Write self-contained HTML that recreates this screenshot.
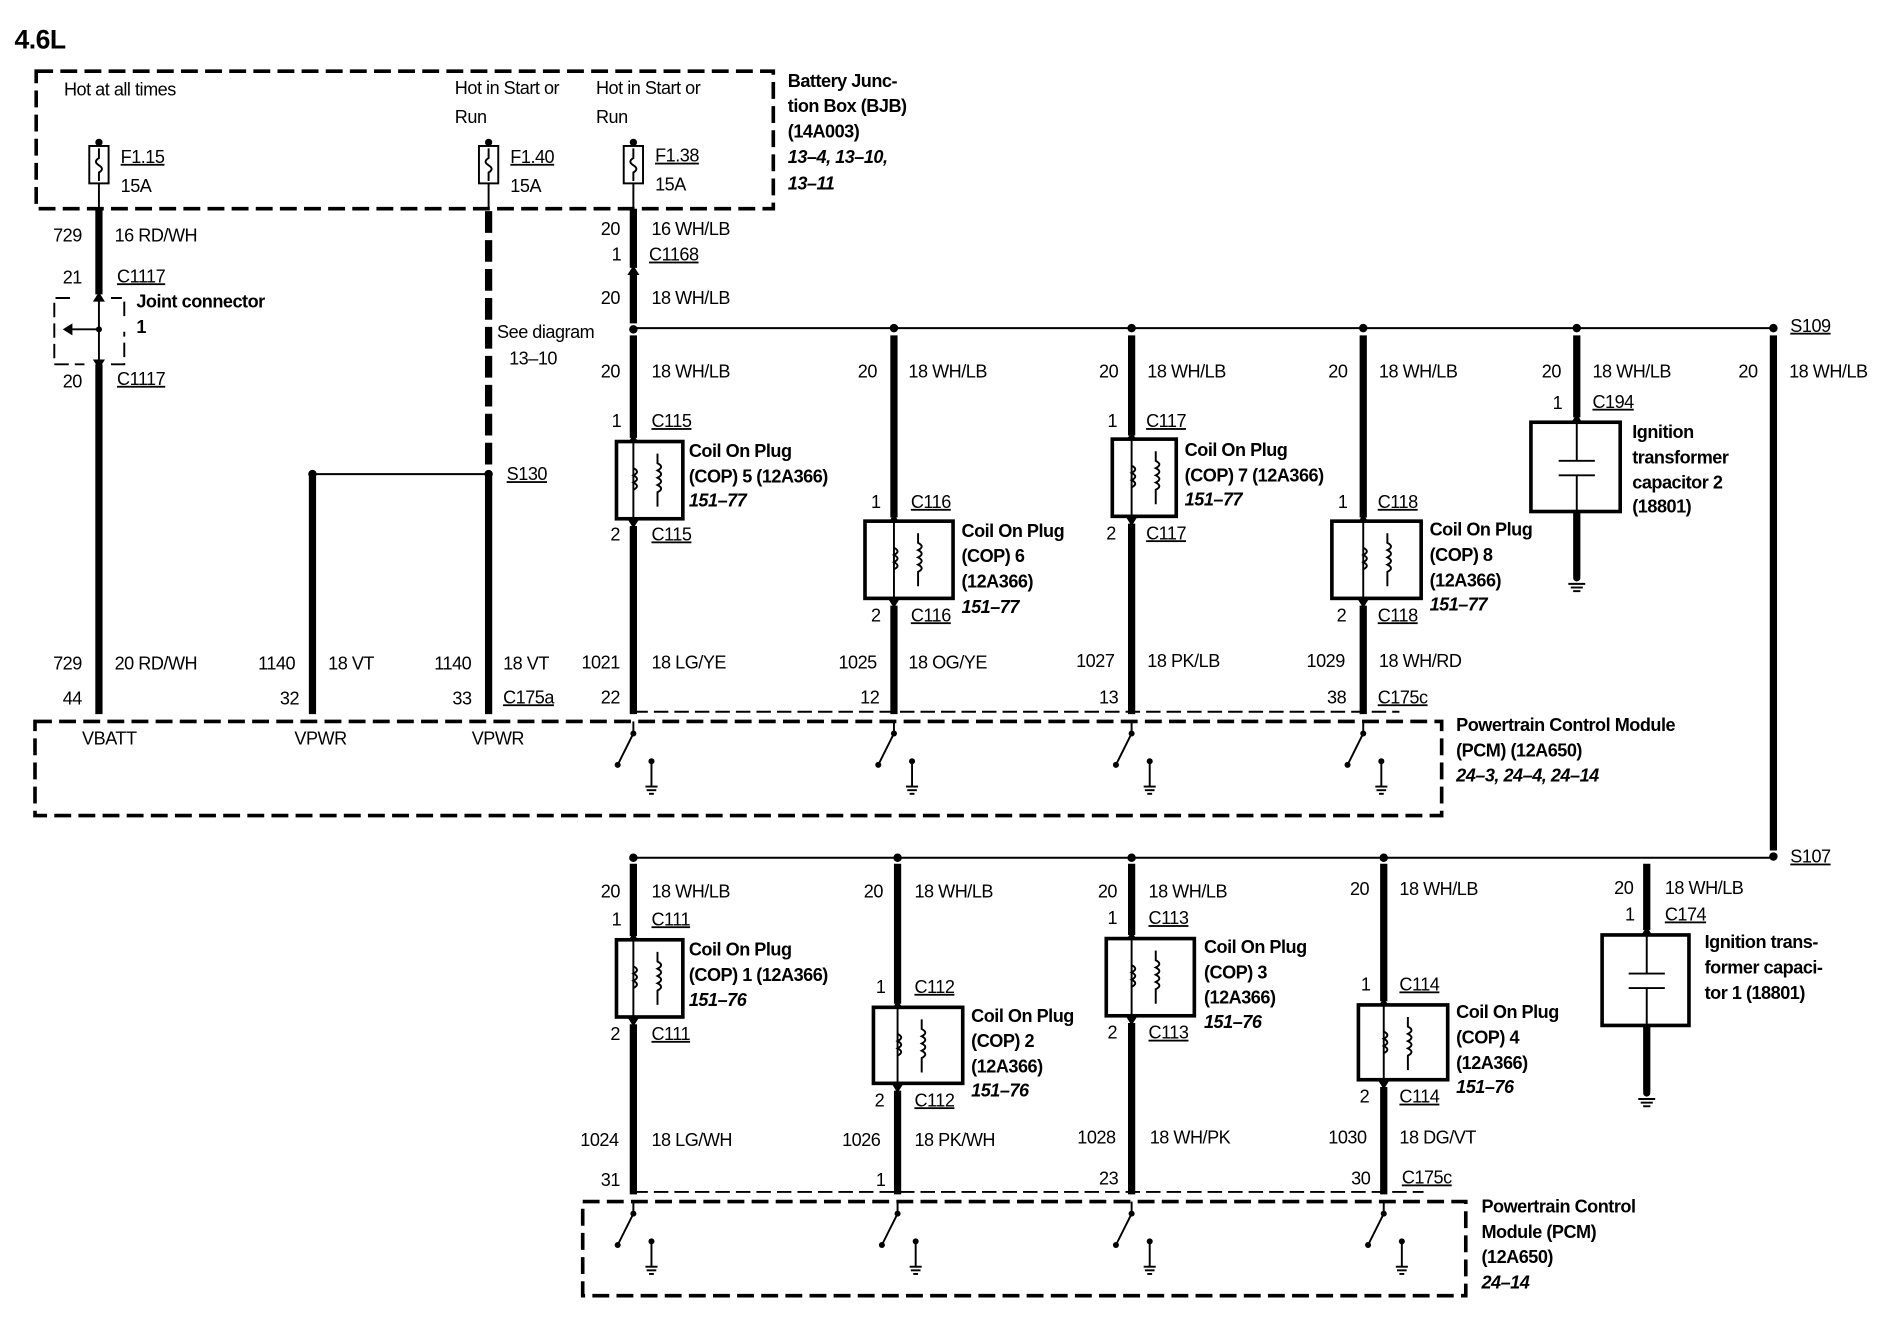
<!DOCTYPE html>
<html><head><meta charset="utf-8"><style>
html,body{margin:0;padding:0;background:#fff}
svg{display:block}
text{font-family:"Liberation Sans",sans-serif;font-size:15px;fill:#000;letter-spacing:-0.4px}
.b{font-weight:bold}
.i{font-weight:bold;font-style:italic}
.u{text-decoration:underline}
.w{stroke:#000;stroke-width:6;fill:none}
.n{stroke:#000;stroke-width:1.6;fill:none}
.d{stroke:#000;stroke-width:3;fill:none;stroke-dasharray:14 6}
.dt{stroke:#000;stroke-width:1.6;fill:none;stroke-dasharray:12 5}
.bx{stroke:#000;stroke-width:3;fill:#fff}
</style></head><body>
<svg width="1882" height="1328" viewBox="0 0 1560 1100.8" xmlns="http://www.w3.org/2000/svg">
<defs>
<g id="coil">
<line x1="0" y1="0" x2="0" y2="64" class="n"/>
<path d="M0,22 q6,3 0,6 q6,3 0,6 q6,3 0,6" class="n"/>
<path d="M20,10 v8 q6,3 0,6 q6,3 0,6 q6,3 0,6 q6,3 0,6 v12" class="n"/>
</g>
<g id="sw">
<line x1="0" y1="0" x2="0" y2="10" class="n" stroke-width="2.5"/>
<line x1="0" y1="10" x2="-13" y2="36" class="n" stroke-width="2.5"/>
<circle cx="0" cy="10" r="2.5"/><circle cx="-13" cy="36" r="2.5"/>
<line x1="15" y1="33" x2="15" y2="54" class="n" stroke-width="2.5"/>
<circle cx="15" cy="33" r="2.5"/>
<line x1="10" y1="54" x2="20" y2="54" class="n" stroke-width="2"/>
<line x1="11" y1="57" x2="19" y2="57" class="n" stroke-width="2"/>
<line x1="13" y1="60" x2="17" y2="60" class="n" stroke-width="2"/>
</g>
<g id="gnd">
<line x1="-7" y1="0" x2="7" y2="0" class="n" stroke-width="2"/>
<line x1="-5" y1="3" x2="5" y2="3" class="n" stroke-width="2"/>
<line x1="-3" y1="6" x2="3" y2="6" class="n" stroke-width="2"/>
</g>
<path id="au" d="M-5,6 L0,-2 L5,6 Z"/>
<path id="ad" d="M-5,-6 L0,2 L5,-6 Z"/>
<g id="fuse">
<rect x="-8" y="0" width="16" height="31" class="n" stroke-width="2.2" fill="#fff"/>
<path d="M0,2 v8 q-5,3 0,6 q5,3 0,6 v7" class="n"/>
</g>
</defs>

<text x="12" y="40" class="b" style="font-size:22px">4.6L</text>

<!-- BJB -->
<rect x="30" y="59" width="611" height="114" class="d"/>
<text x="653" y="72" class="b">Battery Junc-</text>
<text x="653" y="93" class="b">tion Box (BJB)</text>
<text x="653" y="114" class="b">(14A003)</text>
<text x="653" y="135" class="i">13–4, 13–10,</text>
<text x="653" y="157" class="i">13–11</text>
<text x="53" y="79">Hot at all times</text>
<text x="377" y="78">Hot in Start or</text>
<text x="377" y="102">Run</text>
<text x="494" y="78">Hot in Start or</text>
<text x="494" y="102">Run</text>

<circle cx="82" cy="118" r="3"/><use href="#fuse" x="82" y="121"/><line x1="82" y1="152" x2="82" y2="173" class="n"/>
<circle cx="405" cy="118" r="3"/><use href="#fuse" x="405" y="121"/><line x1="405" y1="152" x2="405" y2="173" class="n"/>
<circle cx="525" cy="118" r="3"/><use href="#fuse" x="525" y="121"/><line x1="525" y1="152" x2="525" y2="173" class="n"/>
<text x="100" y="135" class="u">F1.15</text><text x="100" y="159">15A</text>
<text x="423" y="135" class="u">F1.40</text><text x="423" y="159">15A</text>
<text x="543" y="134" class="u">F1.38</text><text x="543" y="158">15A</text>

<!-- wire 82 -->
<line x1="82" y1="173" x2="82" y2="244" class="w"/>
<line x1="82" y1="302" x2="82" y2="592" class="w"/>
<line x1="82" y1="244" x2="82" y2="302" class="n"/>
<use href="#au" x="82" y="244"/><use href="#ad" x="82" y="304"/>
<path d="M58,247 H45 V302 H70 M92,302 H103 V275 M103,262 V247 H92" class="n" stroke-width="3" stroke-dasharray="12 5"/>
<path d="M82,273 H56" class="n"/><path d="M52,273 L60,268 L60,278 Z"/><circle cx="82" cy="273" r="2.5"/>
<text x="44" y="200">729</text><text x="95" y="200">16 RD/WH</text>
<text x="52" y="235">21</text><text x="97" y="234" class="u">C1117</text>
<text x="113" y="255" class="b">Joint connector</text><text x="113" y="276" class="b">1</text>
<text x="52" y="321">20</text><text x="97" y="319" class="u">C1117</text>
<text x="44" y="555">729</text><text x="95" y="555">20 RD/WH</text>
<text x="52" y="584">44</text><text x="68" y="617">VBATT</text>

<!-- wire 405 -->
<line x1="405" y1="175" x2="405" y2="390" stroke="#000" stroke-width="6" stroke-dasharray="18 6"/>
<line x1="405" y1="393" x2="405" y2="592" class="w"/>
<circle cx="405" cy="393" r="3.5"/>
<line x1="259" y1="393" x2="405" y2="393" class="n"/>
<circle cx="259" cy="393" r="3.5"/>
<line x1="259" y1="393" x2="259" y2="592" class="w"/>
<text x="412" y="280">See diagram</text><text x="422" y="302">13–10</text>
<text x="420" y="398" class="u">S130</text>
<text x="360" y="555">1140</text><text x="417" y="555">18 VT</text>
<text x="375" y="584">33</text><text x="417" y="583" class="u">C175a</text>
<text x="391" y="617">VPWR</text>
<text x="214" y="555">1140</text><text x="272" y="555">18 VT</text>
<text x="232" y="584">32</text><text x="244" y="617">VPWR</text>

<!-- wire 525 top -->
<line x1="525" y1="173" x2="525" y2="222" class="w"/><use href="#au" x="525" y="222"/>
<line x1="525" y1="228" x2="525" y2="268" class="w"/>
<text x="498" y="195">20</text><text x="540" y="195">16 WH/LB</text>
<text x="507" y="216">1</text><text x="538" y="216" class="u">C1168</text>
<text x="498" y="252">20</text><text x="540" y="252">18 WH/LB</text>

<!-- horizontal bus top -->
<line x1="525" y1="272" x2="1470" y2="272" class="n" stroke-width="2"/>
<circle cx="525" cy="273" r="3.5"/><circle cx="741" cy="272" r="3.5"/><circle cx="938" cy="272" r="3.5"/><circle cx="1130" cy="272" r="3.5"/><circle cx="1307" cy="272" r="3.5"/><circle cx="1470" cy="272" r="3.5"/>
<text x="1484" y="275" class="u">S109</text>
<line x1="1470" y1="278" x2="1470" y2="705" class="w"/>
<text x="1441" y="313">20</text><text x="1483" y="313">18 WH/LB</text>
<circle cx="1470" cy="710" r="3.5"/>
<text x="1484" y="715" class="u">S107</text>

<!-- COP5 -->
<line x1="525" y1="278" x2="525" y2="363" class="w"/><use href="#au" x="525" y="362"/>
<rect x="511" y="366" width="55" height="64" class="bx"/><use href="#coil" x="525" y="366"/>
<use href="#ad" x="525" y="436"/><line x1="525" y1="436" x2="525" y2="592" class="w"/>
<text x="498" y="313">20</text><text x="540" y="313">18 WH/LB</text>
<text x="507" y="354">1</text><text x="540" y="354" class="u">C115</text>
<text x="506" y="448">2</text><text x="540" y="448" class="u">C115</text>
<text x="571" y="379" class="b">Coil On Plug</text><text x="571" y="400" class="b">(COP) 5 (12A366)</text><text x="571" y="420" class="i">151–77</text>
<text x="482" y="554">1021</text><text x="540" y="554">18 LG/YE</text><text x="498" y="583">22</text>

<!-- COP6 -->
<line x1="741" y1="278" x2="741" y2="429" class="w"/><use href="#au" x="741" y="428"/>
<rect x="717" y="432" width="73" height="64" class="bx"/><use href="#coil" x="741" y="432"/>
<use href="#ad" x="741" y="502"/><line x1="741" y1="502" x2="741" y2="592" class="w"/>
<text x="711" y="313">20</text><text x="753" y="313">18 WH/LB</text>
<text x="722" y="421">1</text><text x="755" y="421" class="u">C116</text>
<text x="722" y="515">2</text><text x="755" y="515" class="u">C116</text>
<text x="797" y="445" class="b">Coil On Plug</text><text x="797" y="466" class="b">(COP) 6</text><text x="797" y="487" class="b">(12A366)</text><text x="797" y="508" class="i">151–77</text>
<text x="695" y="554">1025</text><text x="753" y="554">18 OG/YE</text><text x="713" y="583">12</text>

<!-- COP7 -->
<line x1="938" y1="278" x2="938" y2="361" class="w"/><use href="#au" x="938" y="360"/>
<rect x="922" y="364" width="53" height="64" class="bx"/><use href="#coil" x="938" y="364"/>
<use href="#ad" x="938" y="434"/><line x1="938" y1="434" x2="938" y2="592" class="w"/>
<text x="911" y="313">20</text><text x="951" y="313">18 WH/LB</text>
<text x="918" y="354">1</text><text x="950" y="354" class="u">C117</text>
<text x="917" y="447">2</text><text x="950" y="447" class="u">C117</text>
<text x="982" y="378" class="b">Coil On Plug</text><text x="982" y="399" class="b">(COP) 7 (12A366)</text><text x="982" y="419" class="i">151–77</text>
<text x="892" y="553">1027</text><text x="951" y="553">18 PK/LB</text><text x="911" y="583">13</text>

<!-- COP8 -->
<line x1="1130" y1="278" x2="1130" y2="429" class="w"/><use href="#au" x="1130" y="428"/>
<rect x="1104" y="432" width="74" height="64" class="bx"/><use href="#coil" x="1130" y="432"/>
<use href="#ad" x="1130" y="502"/><line x1="1130" y1="502" x2="1130" y2="592" class="w"/>
<text x="1101" y="313">20</text><text x="1143" y="313">18 WH/LB</text>
<text x="1109" y="421">1</text><text x="1142" y="421" class="u">C118</text>
<text x="1108" y="515">2</text><text x="1142" y="515" class="u">C118</text>
<text x="1185" y="444" class="b">Coil On Plug</text><text x="1185" y="465" class="b">(COP) 8</text><text x="1185" y="486" class="b">(12A366)</text><text x="1185" y="506" class="i">151–77</text>
<text x="1083" y="553">1029</text><text x="1143" y="553">18 WH/RD</text><text x="1100" y="583">38</text><text x="1142" y="583" class="u">C175c</text>

<!-- Cap 2 -->
<line x1="1307" y1="278" x2="1307" y2="346" class="w"/><use href="#au" x="1307" y="345"/>
<rect x="1269" y="350" width="74" height="74" class="bx"/>
<line x1="1307" y1="350" x2="1307" y2="382" class="n"/><line x1="1307" y1="394" x2="1307" y2="424" class="n"/>
<line x1="1292" y1="382" x2="1322" y2="382" class="n" stroke-width="2"/><line x1="1292" y1="394" x2="1322" y2="394" class="n" stroke-width="2"/>
<line x1="1307" y1="424" x2="1307" y2="478" class="w"/><circle cx="1307" cy="479" r="3"/><use href="#gnd" x="1307" y="484"/>
<text x="1278" y="313">20</text><text x="1320" y="313">18 WH/LB</text>
<text x="1287" y="339">1</text><text x="1320" y="338" class="u">C194</text>
<text x="1353" y="363" class="b">Ignition</text><text x="1353" y="384" class="b">transformer</text><text x="1353" y="405" class="b">capacitor 2</text><text x="1353" y="425" class="b">(18801)</text>

<!-- PCM 1 -->
<line x1="525" y1="590" x2="1160" y2="590" class="dt"/>
<rect x="29" y="598" width="1166" height="78" class="d"/>
<use href="#sw" x="525" y="598"/><use href="#sw" x="741" y="598"/><use href="#sw" x="938" y="598"/><use href="#sw" x="1130" y="598"/>
<text x="1207" y="606" class="b">Powertrain Control Module</text>
<text x="1207" y="627" class="b">(PCM) (12A650)</text>
<text x="1207" y="648" class="i">24–3, 24–4, 24–14</text>

<!-- bus bottom -->
<line x1="525" y1="711" x2="1470" y2="711" class="n" stroke-width="2"/>
<circle cx="525" cy="711" r="3.5"/><circle cx="744" cy="711" r="3.5"/><circle cx="938" cy="711" r="3.5"/><circle cx="1147" cy="711" r="3.5"/>

<!-- COP1 -->
<line x1="525" y1="716" x2="525" y2="776" class="w"/><use href="#au" x="525" y="775"/>
<rect x="511" y="779" width="55" height="64" class="bx"/><use href="#coil" x="525" y="779"/>
<use href="#ad" x="525" y="849"/><line x1="525" y1="849" x2="525" y2="990" class="w"/>
<text x="498" y="744">20</text><text x="540" y="744">18 WH/LB</text>
<text x="507" y="767">1</text><text x="540" y="767" class="u">C111</text>
<text x="506" y="862">2</text><text x="540" y="862" class="u">C111</text>
<text x="571" y="792" class="b">Coil On Plug</text><text x="571" y="813" class="b">(COP) 1 (12A366)</text><text x="571" y="834" class="i">151–76</text>
<text x="481" y="950">1024</text><text x="540" y="950">18 LG/WH</text><text x="498" y="983">31</text>

<!-- COP2 -->
<line x1="744" y1="716" x2="744" y2="832" class="w"/><use href="#au" x="744" y="831"/>
<rect x="724" y="835" width="74" height="63" class="bx"/><use href="#coil" x="744" y="835"/>
<use href="#ad" x="744" y="904"/><line x1="744" y1="904" x2="744" y2="990" class="w"/>
<text x="716" y="744">20</text><text x="758" y="744">18 WH/LB</text>
<text x="726" y="823">1</text><text x="758" y="823" class="u">C112</text>
<text x="725" y="917">2</text><text x="758" y="917" class="u">C112</text>
<text x="805" y="847" class="b">Coil On Plug</text><text x="805" y="868" class="b">(COP) 2</text><text x="805" y="889" class="b">(12A366)</text><text x="805" y="909" class="i">151–76</text>
<text x="698" y="950">1026</text><text x="758" y="950">18 PK/WH</text><text x="726" y="983">1</text>

<!-- COP3 -->
<line x1="938" y1="716" x2="938" y2="775" class="w"/><use href="#au" x="938" y="774"/>
<rect x="917" y="778" width="73" height="64" class="bx"/><use href="#coil" x="938" y="778"/>
<use href="#ad" x="938" y="848"/><line x1="938" y1="848" x2="938" y2="990" class="w"/>
<text x="910" y="744">20</text><text x="952" y="744">18 WH/LB</text>
<text x="918" y="766">1</text><text x="952" y="766" class="u">C113</text>
<text x="918" y="861">2</text><text x="952" y="861" class="u">C113</text>
<text x="998" y="790" class="b">Coil On Plug</text><text x="998" y="811" class="b">(COP) 3</text><text x="998" y="832" class="b">(12A366)</text><text x="998" y="852" class="i">151–76</text>
<text x="893" y="948">1028</text><text x="953" y="948">18 WH/PK</text><text x="911" y="982">23</text>

<!-- COP4 -->
<line x1="1147" y1="716" x2="1147" y2="830" class="w"/><use href="#au" x="1147" y="829"/>
<rect x="1126" y="833" width="74" height="62" class="bx"/><use href="#coil" x="1147" y="833"/>
<use href="#ad" x="1147" y="901"/><line x1="1147" y1="901" x2="1147" y2="990" class="w"/>
<text x="1119" y="742">20</text><text x="1160" y="742">18 WH/LB</text>
<text x="1128" y="821">1</text><text x="1160" y="821" class="u">C114</text>
<text x="1127" y="914">2</text><text x="1160" y="914" class="u">C114</text>
<text x="1207" y="844" class="b">Coil On Plug</text><text x="1207" y="865" class="b">(COP) 4</text><text x="1207" y="886" class="b">(12A366)</text><text x="1207" y="906" class="i">151–76</text>
<text x="1101" y="948">1030</text><text x="1160" y="948">18 DG/VT</text><text x="1120" y="982">30</text><text x="1162" y="981" class="u">C175c</text>

<!-- Cap 1 -->
<line x1="1365" y1="716" x2="1365" y2="771" class="w"/><use href="#au" x="1365" y="770"/>
<rect x="1328" y="775" width="72" height="75" class="bx"/>
<line x1="1365" y1="775" x2="1365" y2="807" class="n"/><line x1="1365" y1="819" x2="1365" y2="850" class="n"/>
<line x1="1350" y1="807" x2="1380" y2="807" class="n" stroke-width="2"/><line x1="1350" y1="819" x2="1380" y2="819" class="n" stroke-width="2"/>
<line x1="1365" y1="850" x2="1365" y2="905" class="w"/><circle cx="1365" cy="906" r="3"/><use href="#gnd" x="1365" y="911"/>
<text x="1338" y="741">20</text><text x="1380" y="741">18 WH/LB</text>
<text x="1347" y="763">1</text><text x="1380" y="763" class="u">C174</text>
<text x="1413" y="786" class="b">Ignition trans-</text><text x="1413" y="807" class="b">former capaci-</text><text x="1413" y="828" class="b">tor 1 (18801)</text>

<!-- PCM 2 -->
<line x1="525" y1="988" x2="1180" y2="988" class="dt"/>
<rect x="483" y="996" width="732" height="78" class="d"/>
<use href="#sw" x="525" y="996"/><use href="#sw" x="744" y="996"/><use href="#sw" x="938" y="996"/><use href="#sw" x="1147" y="996"/>
<text x="1228" y="1005" class="b">Powertrain Control</text>
<text x="1228" y="1026" class="b">Module (PCM)</text>
<text x="1228" y="1047" class="b">(12A650)</text>
<text x="1228" y="1068" class="i">24–14</text>
</svg>
</body></html>
